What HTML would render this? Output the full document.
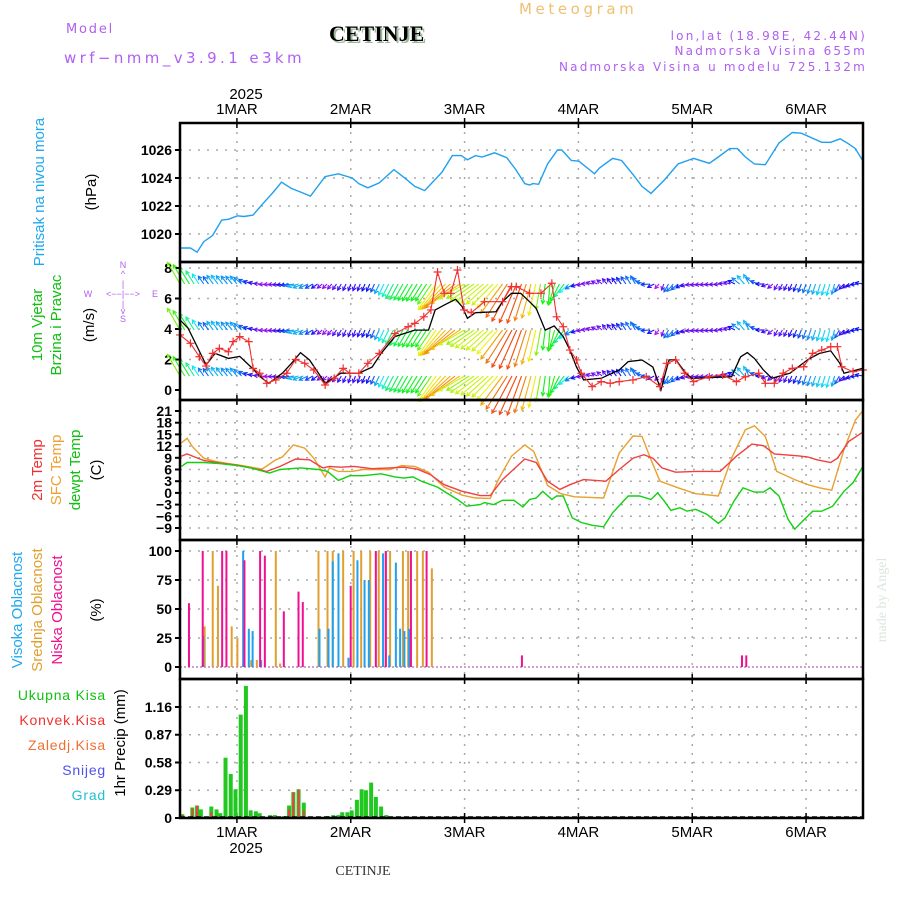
<!DOCTYPE html>
<html><head><meta charset="utf-8"><style>
body{margin:0;background:#fff;}
svg{display:block;font-family:"Liberation Sans",sans-serif;}
.hd{font-family:"DejaVu Sans",sans-serif;}
</style></head><body>
<svg id="c" width="900" height="900" viewBox="0 0 900 900" xmlns="http://www.w3.org/2000/svg">
<text class="hd" x="66" y="33" font-size="13" fill="#b060f0" letter-spacing="1.8">Model</text>
<text class="hd" x="64" y="63" font-size="15" fill="#b060f0" letter-spacing="3.4">wrf−nmm_v3.9.1 e3km</text>
<text x="331" y="43" font-size="22" font-weight="bold" font-family="Liberation Serif,serif" fill="#9cb89c">CETINJE</text>
<text x="329" y="41" font-size="22" font-weight="bold" font-family="Liberation Serif,serif" fill="#000">CETINJE</text>
<text class="hd" x="519" y="14" font-size="15" fill="#f0c070" letter-spacing="3.6">Meteogram</text>
<text class="hd" x="867" y="40" font-size="12" fill="#b060f0" text-anchor="end" letter-spacing="2.2">lon,lat (18.98E, 42.44N)</text>
<text class="hd" x="867" y="55" font-size="12" fill="#b060f0" text-anchor="end" letter-spacing="2.2">Nadmorska Visina 655m</text>
<text class="hd" x="867" y="71" font-size="12" fill="#b060f0" text-anchor="end" letter-spacing="2.2">Nadmorska Visina u modelu 725.132m</text>
<text x="246" y="99" font-size="15" text-anchor="middle">2025</text>
<text x="246" y="853" font-size="15" text-anchor="middle">2025</text>
<text x="363" y="875" font-size="14" font-family="Liberation Serif,serif" text-anchor="middle" fill="#333">CETINJE</text>
<text transform="translate(886,600) rotate(-90)" font-size="14" font-family="Liberation Serif,serif" fill="#dde5dd" text-anchor="middle">made by Angel</text>
<!-- left labels -->
<text transform="translate(44,192) rotate(-90)" font-size="15" fill="#20a8f0" text-anchor="middle">Pritisak na nivou mora</text>
<text transform="translate(96,192) rotate(-90)" font-size="15" text-anchor="middle">(hPa)</text>
<text transform="translate(42,325) rotate(-90)" font-size="15" fill="#10c010" text-anchor="middle">10m Vjetar</text>
<text transform="translate(61,325) rotate(-90)" font-size="15" fill="#10c010" text-anchor="middle">Brzina i Pravac</text>
<text transform="translate(94,325) rotate(-90)" font-size="15" text-anchor="middle">(m/s)</text>
<g fill="#b060f0" font-size="9" text-anchor="middle">
<text x="123" y="268">N</text><text x="123" y="277">^</text><text x="123" y="287">|</text>
<text x="88" y="297">W</text><text x="123" y="297">&lt;−−|−−&gt;</text><text x="155" y="297">E</text>
<text x="123" y="307">|</text><text x="123" y="314">v</text><text x="123" y="322">S</text></g>
<text transform="translate(42,470) rotate(-90)" font-size="15" fill="#f03030" text-anchor="middle">2m Temp</text>
<text transform="translate(61,470) rotate(-90)" font-size="15" fill="#f0a030" text-anchor="middle">SFC Temp</text>
<text transform="translate(80,470) rotate(-90)" font-size="15" fill="#10c010" text-anchor="middle">dewpt Temp</text>
<text transform="translate(101,470) rotate(-90)" font-size="15" text-anchor="middle">(C)</text>
<text transform="translate(22,610) rotate(-90)" font-size="15" fill="#20a8f0" text-anchor="middle">Visoka Oblacnost</text>
<text transform="translate(42,610) rotate(-90)" font-size="15" fill="#e0a030" text-anchor="middle">Srednja Oblacnost</text>
<text transform="translate(62,610) rotate(-90)" font-size="15" fill="#f01090" text-anchor="middle">Niska Oblacnost</text>
<text transform="translate(101,610) rotate(-90)" font-size="15" text-anchor="middle">(%)</text>
<g font-size="14" text-anchor="end" letter-spacing="0.8">
<text x="106" y="700" fill="#10c010">Ukupna Kisa</text>
<text x="106" y="725" fill="#f03030">Konvek.Kisa</text>
<text x="106" y="750" fill="#f07030">Zaledj.Kisa</text>
<text x="106" y="775" fill="#5050f0">Snijeg</text>
<text x="106" y="800" fill="#20c0d0">Grad</text></g>
<text transform="translate(125,743) rotate(-90)" font-size="15" text-anchor="middle">1hr Precip (mm)</text>
<g id="plot"></g>
</svg>
<script>
// ---------- data ----------
const dayLabels=["1MAR","2MAR","3MAR","4MAR","5MAR","6MAR"];
const dayHours=[12,36,60,84,108,132];
const pTicks=[1020,1022,1024,1026];
const wTicks=[0,2,4,6,8];
const tTicks=[21,18,15,12,9,6,3,0,-3,-6,-9];
const cTicks=[0,25,50,75,100];
const rTicks=[0,0.29,0.58,0.87,1.16];

const presH=[0,2.2,3.6,5,6.9,8.8,10.2,12.1,13.5,15.4,17.3,19.7,21.4,23.5,25.4,27.5,30.6,33.4,36.3,37.7,39.6,42,45.1,47.2,49.5,51.6,55.2,57.4,59.3,60.6,62.3,63.7,66.3,68.9,70.8,72.7,73.7,74.4,75.6,77.5,79.6,80.5,82.5,84.1,87.4,88.4,91.2,93.1,95.5,97.4,99.3,102.1,105,108.3,111.6,113.5,115.9,117.5,119.2,121.1,123.4,126.3,129.1,131,135.3,137.2,139.2,140.9,142.4,144];
const presV=[1019,1019,1018.7,1019.45,1019.9,1021,1021.05,1021.3,1021.25,1021.35,1022.1,1023,1023.7,1023.25,1023,1022.7,1024.1,1024.3,1024,1023.6,1023.3,1023.65,1024.6,1024.05,1023.4,1023.1,1024.4,1025.6,1025.6,1025.3,1025.6,1025.5,1025.8,1025.45,1024.6,1023.6,1023.5,1023.6,1023.55,1025,1026,1026,1025.25,1025.2,1024.3,1024.7,1025.4,1025.25,1024.25,1023.4,1022.9,1023.85,1025,1025.4,1025.05,1025.5,1026.1,1026.1,1025.5,1025,1024.95,1026.5,1027.25,1027.2,1026.55,1026.55,1026.8,1026.45,1026.1,1025.2];

const spdH=[0,1.7,3.6,5.5,7.4,10.2,12.6,15,17.3,18.7,21.6,23.5,25.4,27.3,29.2,30.6,33.9,37.7,40.5,42.4,45.3,47.2,49.5,52.4,53.8,55.7,58.1,59.5,60.6,62.3,66.6,68,69.9,71.8,73.7,75.1,77,78.9,80.8,82.2,83.6,85.1,88.8,92.6,94.5,97.4,99.7,101.4,103.1,104.5,106.4,107.8,116.3,118.2,119.6,121.1,123,124.8,128.6,132.4,134.8,137.2,139.1,140,144];
const spdV=[4.6,4.05,2.85,1.64,2.4,2.07,2.2,1.5,0.77,0.44,1.1,1.75,2.45,1.97,1.1,0.44,1.1,1.1,1.5,2.4,3.5,3.7,3.93,3.93,5.25,5.57,5.95,5.46,4.7,5.07,5.13,5.79,6.34,6.34,5.79,5.35,3.93,4.2,3.5,2.62,1.5,0.66,0.77,1.31,1.86,1.97,1.5,0,1.97,2,1.2,0.77,0.87,2.18,2.45,2.07,1.31,0.77,1.1,2,2.4,2.57,1.75,1.1,1.42];
const gustH=[0,2.2,4.1,5.5,6.9,8.3,10.2,11.2,12.6,14.5,15.4,16.8,18.3,20.2,22.5,24.4,26.3,28.2,30.6,32.5,34.4,35.8,37.7,39.6,42,45.3,48.1,49.5,51.4,52.9,54.3,55.7,57.1,58.5,59.9,61.4,64.2,68,69.9,70.9,73.7,76.1,78.4,79.4,80.8,82.2,83.6,84.6,86.9,88.8,90.7,92.6,95.5,98.3,101.2,102.6,104.5,106.4,108.3,111.6,114.4,117.3,119.2,122,123.4,125.3,127.2,129.1,131.5,133.4,135.3,137.2,138.6,139.5,141.9,144];
const gustV=[3.61,3.06,2.18,1.57,2.4,2.73,2.51,3.17,3.5,3.17,1.42,1.1,0.44,0.66,1.1,2,1.75,1.31,0.33,0.77,1.42,1.1,1.1,1.75,2.4,3.7,4.15,4.37,4.8,5.25,7.74,6.34,6.34,7.87,5.25,5.07,5.79,5.79,6.78,6.78,6.34,6.34,7,4.8,4.15,2.62,1.97,1.1,0.22,0.55,0.44,0.55,0.66,0.87,0.22,1.75,1.97,1.1,0.55,0.87,0.98,0.55,0.87,1.1,0.44,0.44,1.1,1.42,1.53,2.4,2.62,2.84,2.84,1.53,1.2,1.31];
// wind direction the arrow points (screen degrees, 0=east, 90=north)
const dirH=[0,6,12,18,24,30,36,42,48,54,60,66,72,78,84,90,96,102,108,114,120,126,132,138,144];
const dirV=[120,125,130,185,190,220,250,245,240,235,210,225,250,265,200,130,120,250,190,185,120,240,250,255,170];

const sfcH=[0.3,1.5,2.6,5,7.4,10.2,13.1,17.3,20.2,21.6,23.9,26.3,28.2,30.6,31.5,33.4,36.3,38.6,41.5,44.3,46.7,49.5,52.4,55.7,59.5,62.3,65.4,67.1,69.9,72.7,74.6,77.5,80.3,83.2,89.3,92.6,95.5,97.4,99.3,101.2,105,108.7,113.5,116.3,119.2,121.1,123.4,125.8,129.6,132.4,134.8,137.4,140,142.4,144];
const sfcV=[12.8,14,11.9,8.9,8.1,7.5,7,6.1,8.5,9.2,12.3,11.5,8.9,4.1,6.4,5.5,5.5,6,6,6,7,6.8,5.3,1.5,-0.6,-1.3,-1.4,3.4,9.4,12.3,10.6,1.9,-0.2,-1,-1.3,10.2,14.6,14.5,8.5,3,1.3,-0.2,-0.8,8.9,16.2,17.2,14.5,5.5,3.4,2.1,1.3,0.7,11.1,18.7,21.1];
const t2H=[0.3,1.5,3.1,5,8.3,12.1,14.9,18.3,21.1,24.4,27.3,30.1,31.5,33.9,36.7,40.5,44.3,47.2,50,52.8,55.7,59.5,63.3,65.4,68,72.7,75.1,77.5,80.1,82.2,85.1,89.8,92.6,95.5,97.8,99.7,101.6,104.5,108.7,113.9,117.3,120.6,123,125.3,130.5,132.4,134.3,137.2,138.6,141,144];
const t2V=[9.4,10,9.2,8.3,7.7,7.1,6.4,5.5,6.8,8.7,8.5,6.4,6.8,6.6,6.8,6.2,6.4,6.6,6.1,4.7,2.1,0.4,-0.7,-0.7,3.4,8.7,7.8,3,0.9,2.1,3.4,3,6,8.9,9.8,8.9,6.4,5.3,5.5,5.5,9.4,12.5,12.1,10,9.5,9.2,8.5,7.8,8.9,13.2,15.6];
const tdH=[0.3,1.5,5,8.3,12.1,14.9,18.9,21.1,25.4,29.2,31.1,33.4,35.8,38.6,42.4,45.3,47.2,49.1,50.9,54.3,56.2,58.5,60.4,63.3,64.2,66.1,68,70.4,72.3,73.7,75.1,76.5,78.4,79.4,80.8,82.7,84.6,86.9,89.3,91.2,94.5,96.9,99.3,100.7,102.1,103.5,105.4,106.9,108.7,111.1,113.5,114.9,116.8,118.7,121.1,123,124.4,126.3,128.2,129.6,131,133.4,135.3,137.6,140,141.9,144];
const tdV=[6.8,7.8,7.8,7.5,7,6.4,5.1,6,6.4,6,5.5,3.2,4.4,4.4,4.9,4.1,3.8,4.1,3,1.5,0,-1.7,-3.4,-3,-2.5,-3,-1.9,-1.9,-3.6,-1.7,-1.3,0.4,-1.7,-0.8,-0.8,-6.4,-7.6,-8.3,-8.7,-5.1,-0.8,-0.8,-1.7,0,-2.1,-4.5,-3.8,-4.7,-4.2,-5.5,-7.8,-6.4,-2.1,1.3,0.2,0.2,1.3,-0.8,-6.8,-9.3,-7.6,-4.7,-4.7,-3.4,0.4,2.6,6.8];

const lowH=[2.1,5,9.1,10,13.8,17.1,18.1,22.1,25.2,26.1,36.2,41.5,43.6,48.9,52.2,72.3,118.7,119.6];
const lowV=[55,100,100,100,92,100,96,48,65,56,70,100,100,100,100,10,10,10];
const midH=[5.2,6.9,8,10.9,12.1,15,16.2,20.2,21.1,29.2,31.1,32.2,34.4,36.6,38.2,40.1,41.9,43.4,44.3,47,48.1,50,51.2,53.1];
const midV=[35,100,70,35,25,6,6,100,3,100,100,100,100,100,100,100,100,100,100,100,100,100,100,85];
const highH=[4.7,13.1,14.3,15.1,16.9,29.2,31.1,32,33.2,35.3,37.2,38.7,39.6,42.6,43.9,45.3,46.2,47.1,48.1];
const highV=[27,100,33,31,6,33,33,91,98,8,92,75,75,98,10,90,33,31,33];

const rainH=[0.5,2.6,3.6,4.4,6.6,7.7,8.5,9.6,10.7,11.7,12.8,13.9,14.9,16,16.8,19,20,21.9,23,23.9,25,26.1,31.2,32.3,33.4,34.2,35.3,36.2,37.3,38.3,39.2,40.3,41.3,42.4,43.5];
const rainV=[0.04,0.11,0.13,0.09,0.12,0.09,0.05,0.63,0.46,0.3,1.08,1.38,0.08,0.07,0.05,0.03,0.03,0.02,0.13,0.27,0.3,0.16,0.02,0.03,0.03,0.06,0.06,0.08,0.19,0.3,0.29,0.37,0.22,0.12,0.03];
const convH=[0.5,2.6,3.6,6.6,7.7,23,23.9,25,26.1];
const convV=[0.03,0.1,0.13,0.06,0.02,0.09,0.27,0.3,0.08];

// ---------- axes ----------
const X0=180,X1=863;
const xh=h=>X0+h*(X1-X0)/144;
const yP=v=>150+(1026-v)*14;
const yW=v=>390-v*15.25;
const yT=v=>411+(21-v)*3.9;
const yC=v=>667-v*1.16;
const yR=v=>818-v*95.7;
const panels=[[123,262],[262,400],[400,540],[540,679],[679,818]];

const NS="http://www.w3.org/2000/svg";
const plot=document.getElementById('plot');
function mk(tag,attrs,parent){const e=document.createElementNS(NS,tag);for(const k in attrs)e.setAttribute(k,attrs[k]);(parent||plot).appendChild(e);return e;}
function txt(x,y,s,attrs){const e=mk('text',Object.assign({x:x,y:y},attrs||{}));e.textContent=s;return e;}
function interp(H,V,h){if(h<=H[0])return V[0];for(let i=1;i<H.length;i++){if(h<=H[i]){const f=(h-H[i-1])/(H[i]-H[i-1]);return V[i-1]+f*(V[i]-V[i-1]);}}return V[V.length-1];}
function line(H,V,yf,color,name,w){const pts=H.map((h,i)=>xh(h).toFixed(1)+','+yf(V[i]).toFixed(1)).join(' ');const e=mk('polyline',{points:pts,fill:'none',stroke:color,'stroke-width':w||1.4});

return e;}

// grid
const grid=mk('g',{stroke:'#aaa','stroke-width':1.5,'stroke-dasharray':'2,7'});


dayHours.forEach(h=>{mk('line',{x1:xh(h),x2:xh(h),y1:123,y2:818},grid);});
function hgrid(ticks,yf){ticks.forEach(t=>{const y=yf(t);mk('line',{x1:X0,x2:X1,y1:y,y2:y},grid);});}
hgrid(pTicks,yP);hgrid(wTicks.slice(1),yW);hgrid(tTicks,yT);hgrid(cTicks.slice(1),yC);hgrid(rTicks.slice(1),yR);

// tick labels
function ylabels(ticks,yf,fmt,name){ticks.forEach(t=>{const e=txt(172,yf(t)+5,fmt(t),{'font-size':14,'font-weight':'bold','text-anchor':'end'});


mk('line',{x1:175,x2:180,y1:yf(t),y2:yf(t),stroke:'#000','stroke-width':2});});}
ylabels(pTicks,yP,t=>String(t),'pressure-tick');
ylabels(wTicks,yW,t=>String(t),'wind-tick');
ylabels(tTicks,yT,t=>t<0?'−'+(-t):String(t),'temp-tick');
ylabels(cTicks,yC,t=>String(t),'cloud-tick');
ylabels(rTicks,yR,t=>t===0?'0':t.toFixed(2),'precip-tick');
dayLabels.forEach((d,i)=>{const x=xh(dayHours[i]);
const a=txt(x,114,d,{'font-size':15,'text-anchor':'middle'});


const b=txt(x,837,d,{'font-size':15,'text-anchor':'middle'});


panels.forEach(p=>{mk('line',{x1:x,x2:x,y1:p[0],y2:p[0]+5,stroke:'#000','stroke-width':1.5});mk('line',{x1:x,x2:x,y1:p[1]-5,y2:p[1],stroke:'#000','stroke-width':1.5});});
mk('line',{x1:x,x2:x,y1:818,y2:823,stroke:'#000','stroke-width':1.5});mk('line',{x1:x,x2:x,y1:118,y2:123,stroke:'#000','stroke-width':1.5});});

// pressure
line(presH,presV,yP,'#20a0f0','pressure-line',1.4);

// wind arrows
const wg=mk('g',{});


const rows=[284,330,376];
for(let h=0;h<=144;h+=1){
  const s=interp(spdH,spdV,h), d=interp(dirH,dirV,h)*Math.PI/180;
  const L=6+s*s*0.9; let hue=300-45*s; if(hue<0)hue+=360;
  const col='hsl('+hue.toFixed(0)+',90%,50%)';
  rows.forEach(ry=>{const x=xh(h), ex=x+L*Math.cos(d), ey=ry-L*Math.sin(d);
    mk('line',{x1:x,y1:ry,x2:ex,y2:ey,stroke:col,'stroke-width':1.1},wg);
    const ang=Math.atan2(ey-ry,ex-x);
    const p=[[ex,ey],[ex-4*Math.cos(ang-0.5),ey-4*Math.sin(ang-0.5)],[ex-4*Math.cos(ang+0.5),ey-4*Math.sin(ang+0.5)]];
    mk('polyline',{points:p[1].join(',')+' '+p[0].join(',')+' '+p[2].join(','),fill:'none',stroke:col,'stroke-width':1.1},wg);});
}
line(spdH,spdV,yW,'#000','wind-speed-line',1.3);
line(gustH,gustV,yW,'#f03030','wind-gust-line',1.1);
const gm=mk('g',{stroke:'#f03030','stroke-width':1.2});


gustH.forEach((h,i)=>{const x=xh(h),y=yW(gustV[i]);mk('path',{d:`M${x-4},${y}H${x+4}M${x},${y-4}V${y+4}`},gm);});

// temps
line(sfcH,sfcV,yT,'#e8a030','sfc-temp-line',1.4);
line(t2H,t2V,yT,'#f04040','temp-2m-line',1.4);
line(tdH,tdV,yT,'#10d010','dewpoint-line',1.4);

// clouds
function cbars(H,V,col,off,name){H.forEach((h,i)=>{const x=xh(h)+off,y=yC(V[i]);const r=mk('rect',{x:x-1,y:y,width:2,height:667-y,fill:col});

});}
mk('line',{x1:X0,x2:X1,y1:667,y2:667,stroke:'#c080c0','stroke-width':1.5,'stroke-dasharray':'2,2'});
cbars(midH,midV,'#e0a030',0,'mid-cloud-bar');
cbars(highH,highV,'#20a0f0',1,'high-cloud-bar');
cbars(lowH,lowV,'#f01090',-1,'low-cloud-bar');

// precip
rainH.forEach((h,i)=>{const x=xh(h),y=yR(rainV[i]);const r=mk('rect',{x:x-2,y:y,width:4,height:818-y,fill:'#20c820'});

});
convH.forEach((h,i)=>{const x=xh(h),y=yR(convV[i]);const r=mk('rect',{x:x-1,y:y,width:2,height:818-y,fill:'#f04040'});

});
mk('line',{x1:X0,x2:X1,y1:817,y2:817,stroke:'#000','stroke-width':1.5,'stroke-dasharray':'5,3'});

// panel frames
panels.forEach((p,i)=>{const r=mk('rect',{x:X0,y:p[0],width:X1-X0,height:p[1]-p[0],fill:'none',stroke:'#000','stroke-width':2.5});

});
</script>
</body></html>
